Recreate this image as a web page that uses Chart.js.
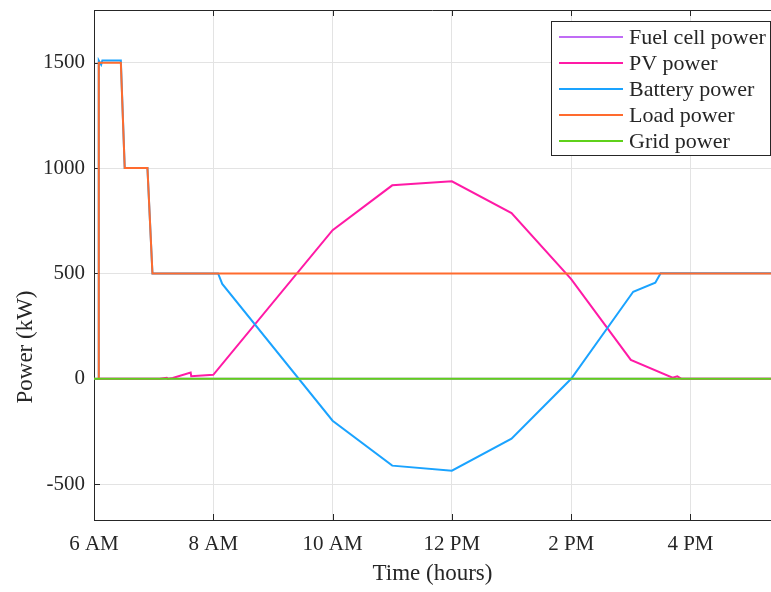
<!DOCTYPE html>
<html>
<head>
<meta charset="utf-8">
<script src="https://cdn.jsdelivr.net/npm/chart.js@4.4.0/dist/chart.umd.min.js"></script>
<style>
  html, body { margin: 0; padding: 0; background: #fff; }
</style>
</head>
<body>
<canvas id="chart" width="771" height="592"></canvas>
<script>
// values (time in hours, power in kW)
const xTickValues = [6, 8, 10, 12, 14, 16];
const xTickLabels = ["6 AM", "8 AM", "10 AM", "12 PM", "2 PM", "4 PM"];
const yTickValues = [-500, 0, 500, 1000, 1500];

const fuelTime = [6.0, 17.35];
const fuelPower = [0, 0];

const pvTime = [6.07, 7.1, 7.22, 7.24, 7.27, 7.32, 7.62, 7.63, 8.0, 10, 11, 12, 13, 14, 15, 15.7, 15.78, 15.85, 17.35];
const pvPower = [0, 0, 5, 0, 2, 4, 30, 12, 19, 705, 918, 937, 786, 473, 90, 5, 12, 0, 0];

const batteryTime = [6.07, 6.08, 6.12, 6.14, 6.45, 6.515, 6.896, 6.98, 8.08, 8.15, 10, 11, 12, 13, 14, 15.04, 15.41, 15.5, 17.35];
const batteryPower = [0, 1510, 1490, 1510, 1510, 1000, 1000, 500, 500, 450, -199, -412, -436, -284, 0, 413, 456, 501, 501];

const loadTime = [6.07, 6.08, 6.45, 6.515, 6.896, 6.98, 17.35];
const loadPower = [0, 1500, 1500, 1000, 1000, 500, 500];

const gridTime = [6.0, 17.35];
const gridPower = [0, 0];

const seriesNames = ["Fuel cell power", "PV power", "Battery power", "Load power", "Grid power"];
const seriesColors = ["#c06cf5", "#ff1aa6", "#1aa3ff", "#ff6b2e", "#5fd11a"];

const toPoints = (xs, ys) => xs.map((x, i) => ({ x: x, y: ys[i] }));
const serif = "'Liberation Serif', 'Times New Roman', serif";
const ink = "#262626";

const frame = {
  id: "frame",
  beforeDraw(chart) {
    const ctx = chart.ctx;
    ctx.save();
    ctx.fillStyle = "#fff";
    ctx.fillRect(0, 0, chart.width, chart.height);
    ctx.restore();
  },
  beforeDatasetsDraw(chart) {
    const { ctx, chartArea: a, scales } = chart;
    ctx.save();
    ctx.strokeStyle = ink;
    ctx.lineWidth = 1;
    ctx.beginPath();
    ctx.moveTo(a.left, a.top + 0.5);
    ctx.lineTo(a.right, a.top + 0.5);
    xTickValues.forEach((v) => {
      const px = Math.round(scales.x.getPixelForValue(v)) + 0.5;
      ctx.moveTo(px, a.bottom);
      ctx.lineTo(px, a.bottom - 6);
      ctx.moveTo(px, a.top);
      ctx.lineTo(px, a.top + 6);
    });
    yTickValues.forEach((v) => {
      const py = Math.round(scales.y.getPixelForValue(v)) + 0.5;
      ctx.moveTo(a.left, py);
      ctx.lineTo(a.left + 6, py);
    });
    ctx.stroke();

    // y axis title, placed where the reference has it
    ctx.translate(26, 347);
    ctx.rotate(-Math.PI / 2);
    ctx.font = "23px " + serif;
    ctx.fillStyle = ink;
    ctx.textAlign = "center";
    ctx.textBaseline = "middle";
    ctx.fillText("Power (kW)", 0, 0);
    ctx.restore();
  },
  afterDraw(chart) {
    const ctx = chart.ctx;
    ctx.save();
    ctx.fillStyle = "#fff";
    ctx.fillRect(551.5, 21.5, 219, 134);
    ctx.strokeStyle = ink;
    ctx.lineWidth = 1;
    ctx.strokeRect(551.5, 21.5, 219, 134);
    ctx.font = "22px " + serif;
    ctx.textBaseline = "middle";
    ctx.textAlign = "left";
    seriesNames.forEach((name, i) => {
      const y = 37 + i * 26;
      ctx.strokeStyle = seriesColors[i];
      ctx.lineWidth = 2;
      ctx.beginPath();
      ctx.moveTo(559, y);
      ctx.lineTo(623, y);
      ctx.stroke();
      ctx.fillStyle = ink;
      ctx.fillText(name, 629, y + 1);
    });
    ctx.restore();
  }
};

const series = [
  toPoints(fuelTime, fuelPower),
  toPoints(pvTime, pvPower),
  toPoints(batteryTime, batteryPower),
  toPoints(loadTime, loadPower),
  toPoints(gridTime, gridPower)
];

new Chart(document.getElementById("chart"), {
  type: "line",
  data: {
    datasets: series.map((pts, i) => ({
      label: seriesNames[i],
      data: pts,
      borderColor: seriesColors[i],
      backgroundColor: seriesColors[i],
      borderWidth: 2,
      pointRadius: 0,
      tension: 0,
      fill: false,
      order: 5 - i
    }))
  },
  options: {
    responsive: false,
    animation: false,
    devicePixelRatio: 1,
    layout: { padding: { top: 10, right: 0, left: 0, bottom: 0 } },
    plugins: { legend: { display: false }, tooltip: { enabled: false } },
    scales: {
      x: {
        type: "linear",
        min: 6,
        max: 17.35,
        afterBuildTicks: (s) => { s.ticks = xTickValues.map((v) => ({ value: v })); },
        afterFit: (s) => { s.height = 72; s.paddingLeft = 0; s.paddingRight = 0; },
        ticks: {
          callback: (v) => xTickLabels[xTickValues.indexOf(v)],
          font: { family: serif, size: 21 },
          color: ink,
          padding: 12,
          maxRotation: 0
        },
        grid: { color: "#e3e3e3", drawTicks: false },
        border: { color: ink, width: 1 },
        title: {
          display: true,
          text: "Time (hours)",
          font: { family: serif, size: 23 },
          color: ink,
          padding: { bottom: 4 }
        }
      },
      y: {
        type: "linear",
        min: -670,
        max: 1750,
        afterBuildTicks: (s) => { s.ticks = yTickValues.map((v) => ({ value: v })); },
        afterFit: (s) => { s.width = 94; s.paddingTop = 0; s.paddingBottom = 0; },
        ticks: {
          callback: (v) => String(v),
          font: { family: serif, size: 21 },
          color: ink,
          padding: 9
        },
        grid: { color: "#e3e3e3", drawTicks: false },
        border: { color: ink, width: 1 }
      }
    }
  },
  plugins: [frame]
});
</script>
</body>
</html>
